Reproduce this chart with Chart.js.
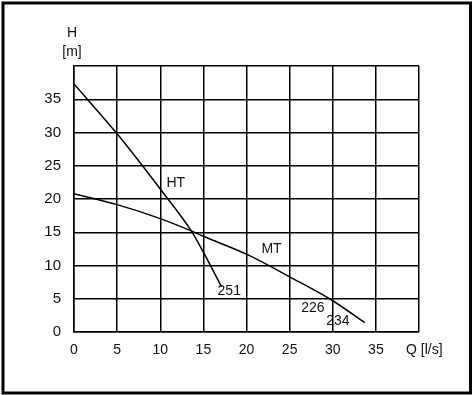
<!DOCTYPE html>
<html>
<head>
<meta charset="utf-8">
<script src="https://cdn.jsdelivr.net/npm/chart.js@4"></script>
<style>
    html, body { margin: 0; padding: 0; background: #fff; }
    canvas { display: block; }
</style>
</head>
<body>
<canvas id="pumpChart" width="474" height="395"></canvas>
<script>
// Pump curves, Q [l/s] vs H [m]
const htQ = [0, 5, 10, 13.6, 15, 17.1];
const htH = [37.3, 29.8, 21.5, 15.2, 12, 6.8];
const mtQ = [0, 5, 10, 13.6, 15, 20, 25, 30, 33.7];
const mtH = [20.8, 19.15, 17.05, 15.2, 14.4, 11.7, 8.3, 4.7, 1.4];

const xTicks = [0, 5, 10, 15, 20, 25, 30, 35];
const yTicks = [0, 5, 10, 15, 20, 25, 30, 35];

// Curve annotations (text, anchored in data units)
const curveLabels = [
    { text: "HT", q: 11.8, h: 22.4 },
    { text: "MT", q: 22.9, h: 12.4 },
    { text: "251", q: 18.0, h: 6.1 },
    { text: "226", q: 27.7, h: 3.6 },
    { text: "234", q: 30.6, h: 1.6 },
];

const FONT_FAMILY = "'Liberation Sans', Arial, sans-serif";

const toPoints = (xs, ys) => xs.map((x, i) => ({ x: x, y: ys[i] }));

// Extra drawing: frame, axis titles, curve labels
const extras = {
    id: "extras",
    afterDraw(chart) {
        const ctx = chart.ctx;
        const xs = chart.scales.x;
        const ys = chart.scales.y;
        ctx.save();

        // outer frame
        ctx.strokeStyle = "#000";
        ctx.lineWidth = 3;
        ctx.strokeRect(3, 3, chart.width - 6.5, chart.height - 5);

        ctx.fillStyle = "#111";
        ctx.font = "14px " + FONT_FAMILY;
        ctx.textBaseline = "middle";

        // y axis title
        ctx.textAlign = "center";
        ctx.fillText("H", xs.left - 2, ys.top - 33);
        ctx.fillText("[m]", xs.left - 2, ys.top - 14);

        // x axis title
        ctx.textAlign = "left";
        ctx.fillText("Q [l/s]", xs.right - 13, ys.bottom + 18);

        // curve labels
        ctx.textAlign = "center";
        curveLabels.forEach((l) => {
            ctx.fillText(l.text, xs.getPixelForValue(l.q), ys.getPixelForValue(l.h));
        });
        ctx.restore();
    },
};

const ctx = document.getElementById("pumpChart").getContext("2d");
new Chart(ctx, {
    type: "scatter",
    data: {
        datasets: [
            {
                label: "HT",
                data: toPoints(htQ, htH),
                showLine: true,
                borderColor: "#000",
                borderWidth: 1.5,
                pointRadius: 0,
                cubicInterpolationMode: "monotone",
            },
            {
                label: "MT",
                data: toPoints(mtQ, mtH),
                showLine: true,
                borderColor: "#000",
                borderWidth: 1.5,
                pointRadius: 0,
                cubicInterpolationMode: "monotone",
            },
        ],
    },
    options: {
        responsive: false,
        animation: false,
        events: [],
        layout: {
            padding: { left: 0, top: 66, right: 55, bottom: 0 },
        },
        plugins: {
            legend: { display: false },
            tooltip: { enabled: false },
        },
        scales: {
            x: {
                type: "linear",
                min: 0,
                max: 40,
                afterFit: (scale) => { scale.height = 63; },
                afterBuildTicks: (scale) => {
                    scale.ticks = xTicks.concat([40]).map((v) => ({ value: v }));
                },
                ticks: {
                    color: "#111",
                    font: { family: FONT_FAMILY, size: 14 },
                    padding: 10,
                    maxRotation: 0,
                    callback: (v) => (xTicks.includes(v) ? String(v) : ""),
                },
                grid: { color: "#000", lineWidth: 1.5, drawTicks: false },
                border: { color: "#000", width: 1.5 },
            },
            y: {
                type: "linear",
                min: 0,
                max: 40,
                afterFit: (scale) => { scale.width = 74; },
                afterBuildTicks: (scale) => {
                    scale.ticks = yTicks.concat([40]).map((v) => ({ value: v }));
                },
                ticks: {
                    color: "#111",
                    font: { family: FONT_FAMILY, size: 15 },
                    padding: 13,
                    callback: (v) => (yTicks.includes(v) ? String(v) : ""),
                },
                grid: { color: "#000", lineWidth: 1.5, drawTicks: false },
                border: { color: "#000", width: 1.5 },
            },
        },
    },
    plugins: [extras],
});
</script>
</body>
</html>
